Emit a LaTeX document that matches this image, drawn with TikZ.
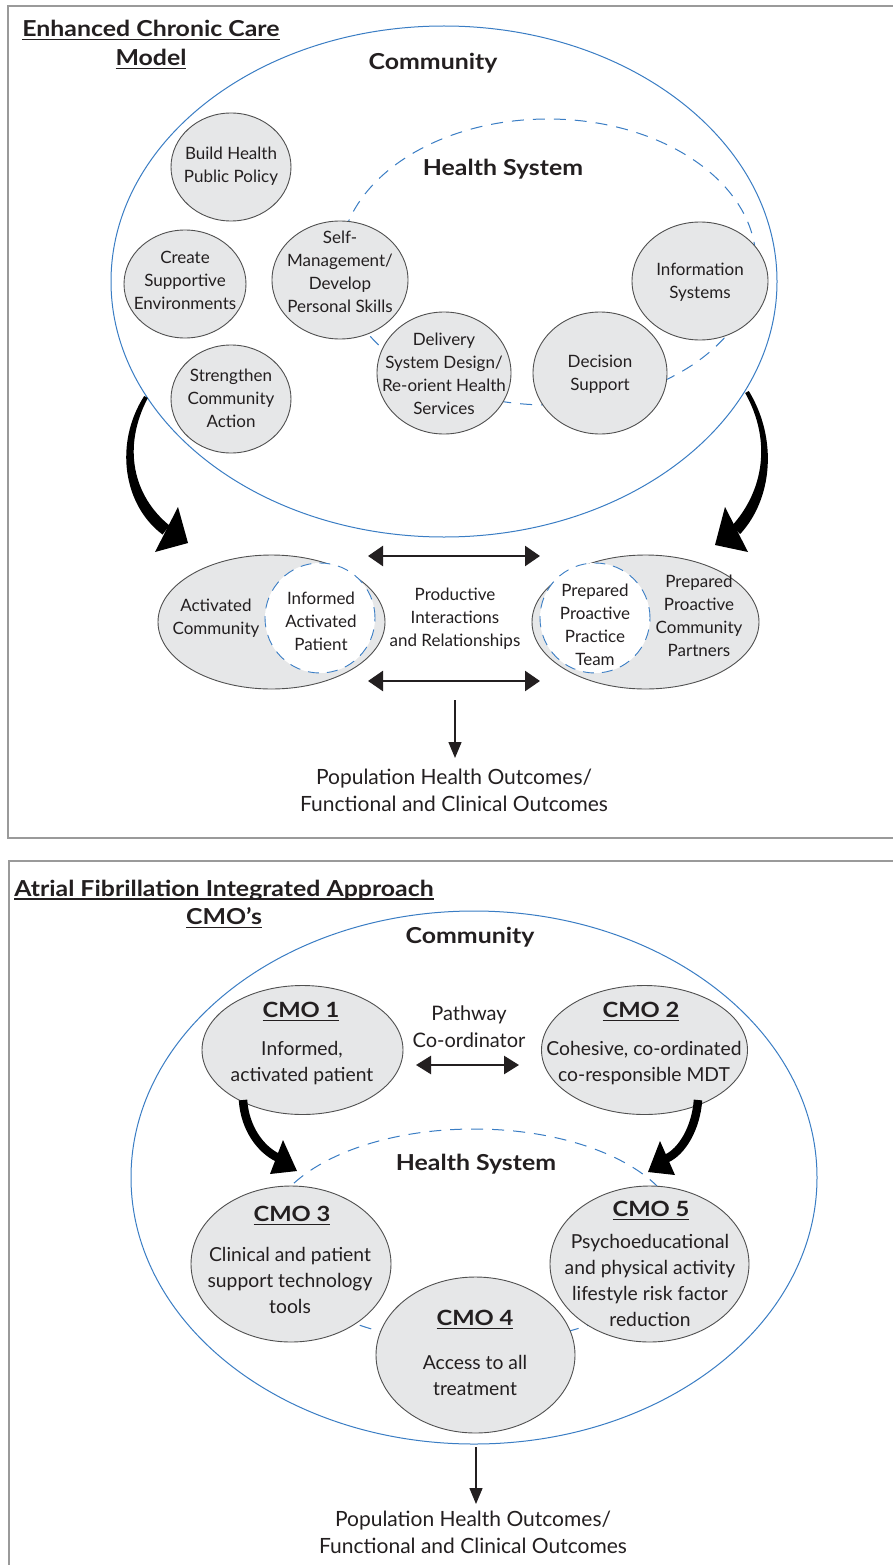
\documentclass[tikz,border=0pt]{standalone}
\usepackage{fontspec}
\setmainfont{Lato}
\newfontfamily\widebold[FakeStretch=1.13]{Lato}
\usetikzlibrary{shapes.geometric,arrows.meta}
\definecolor{ink}{HTML}{231F20}
\definecolor{blobfill}{HTML}{E6E7E8}
\definecolor{rim}{HTML}{505050}
\definecolor{sky}{HTML}{3A7DC4}
\definecolor{framecol}{HTML}{9A9A9A}
\newcommand{\undl}[1]{\leavevmode\setbox0=\hbox{#1}\rlap{\rule[-3.5pt]{\wd0}{1.4pt}}\box0}
\tikzset{
  blob/.style={ellipse, draw=rim, fill=blobfill, line width=0.9pt, inner sep=0pt},
  hole/.style={circle, draw=sky, fill=white, line width=0.9pt, dash pattern=on 11pt off 8pt, inner sep=0pt, minimum size=110pt},
  txt/.style={align=center, text=ink, inner sep=0pt, font=\fontsize{17}{23}\selectfont},
  cmotxt/.style={align=center, text=ink, inner sep=0pt, font=\fontsize{19.3}{26}\selectfont},
  cmohead/.style={text=ink, inner sep=0pt, font=\widebold\bfseries\fontsize{21}{24}\selectfont},
  ringlabel/.style={text=ink, inner sep=0pt, font=\widebold\bfseries\fontsize{22}{25}\selectfont},
  paneltitle/.style={text=ink, inner sep=0pt, font=\widebold\bfseries\fontsize{22}{28}\selectfont},
  outcome/.style={align=center, text=ink, inner sep=0pt, font=\fontsize{21}{27}\selectfont},
  ring/.style={draw=sky, line width=1pt},
  dashring/.style={draw=sky, line width=1pt, dash pattern=on 12pt off 9pt},
  panel/.style={draw=framecol, line width=1.5pt},
  dblarrow/.style={draw=ink, line width=2.5pt, {Triangle[length=15pt,width=20pt]}-{Triangle[length=15pt,width=20pt]}},
  downarrow/.style={draw=ink, line width=1.4pt, -{Triangle[length=16pt,width=13pt]}},
  bigarrow/.style={fill=black, draw=none},
}
\begin{document}
\begin{tikzpicture}[x=1pt,y=-1pt]
\useasboundingbox (0,0) rectangle (893,1565);
\fill[white] (0,0) rectangle (893,1565);

% ================= Panel 1 =================
\draw[panel] (8,6) rectangle (910,838);
\node[paneltitle] (t1a) at (151,30) {\undl{Enhanced Chronic Care}};
\node[paneltitle] (t1b) at (151,59) {\undl{Model}};

\draw[ring] (444,281.5) ellipse [x radius=333, y radius=255.5];
\draw[dashring] (548,262) ellipse [x radius=208, y radius=143];
\node[ringlabel] (comm1) at (433,63) {Community};
\node[ringlabel] (hs1) at (503,169) {Health System};

\node[blob, minimum width=120pt, minimum height=108pt] (build) at (231,167) {};
\node[txt] at (231,166) {Build Health\\Public Policy};
\node[blob, minimum width=122pt, minimum height=108pt] (create) at (185,284) {};
\node[txt] at (185,280) {Create\\Supportive\\Environments};
\node[blob, minimum width=120pt, minimum height=108pt] (strength) at (231,399) {};
\node[txt] at (231,398.5) {Strengthen\\Community\\Action};
\node[blob, minimum width=136pt, minimum height=118pt] (selfm) at (340,280) {};
\node[txt] at (340,272) {Self-\\Management/\\Develop\\Personal Skills};
\node[blob, minimum width=134pt, minimum height=122pt] (deliv) at (444,373) {};
\node[txt] at (444,374) {Delivery\\System Design/\\Re-orient Health\\Services};
\node[blob, minimum width=134pt, minimum height=122pt] (decis) at (600,373) {};
\node[txt] at (600,374) {Decision\\Support};
\node[blob, minimum width=136pt, minimum height=118pt] (info) at (700,281) {};
\node[txt] at (700,282.5) {Information\\Systems};

% big curved arrows (top)
\path[bigarrow] (144.2,396.0) .. controls (114,443) and (123,505) .. (162.5,534.5)
  -- (169.6,525.6) .. controls (133,496) and (122,447) .. (147.8,398.0) -- cycle;
\path[bigarrow] (155,552) -- (178,507) -- (188,543) -- cycle;
\path[bigarrow] (748.8,391.0) .. controls (778,439) and (772.5,499) .. (740.2,534.0)
  -- (731.8,526.0) .. controls (763.5,491) and (772,441) .. (745.2,393.0) -- cycle;
\path[bigarrow] (725,507) -- (748,552) -- (715,545) -- cycle;

% lower row
\node[blob, minimum width=227pt, minimum height=134pt] (actcom) at (271.5,622) {};
\node[hole] (patient) at (320,618) {};
\node[txt] at (216,618.5) {Activated\\Community};
\node[txt] at (321,621) {Informed\\Activated\\Patient};

\node[blob, minimum width=227pt, minimum height=134pt] (partners) at (645.5,622) {};
\node[hole] (team) at (595,618) {};
\node[txt] at (595,624.5) {Prepared\\Proactive\\Practice\\Team};
\node[txt] at (699,616) {Prepared\\Proactive\\Community\\Partners};

\node[txt] (prod) at (455,619) {Productive\\Interactions\\and Relationships};
\coordinate (ua) at (368,556); \coordinate (ub) at (540,556);
\coordinate (la) at (368,681); \coordinate (lb) at (540,681);
\draw[dblarrow] (ua) -- (ub);
\draw[dblarrow] (la) -- (lb);
\coordinate (d1a) at (455,700); \coordinate (d1b) at (455,758);
\draw[downarrow] (d1a) -- (d1b);
\node[outcome] (out1) at (454,790.5) {Population Health Outcomes/\\Functional and Clinical Outcomes};

% ================= Panel 2 =================
\draw[panel] (9,861) rectangle (910,1600);
\node[paneltitle] (t2a) at (224,890) {\undl{Atrial Fibrillation Integrated Approach}};
\node[paneltitle] (t2b) at (224,918) {\undl{CMO’s}};

\draw[ring] (474,1177.5) ellipse [x radius=343, y radius=266.5];
\draw[dashring] (474,1236) ellipse [x radius=207, y radius=107];
\node[ringlabel] (comm2) at (470,937) {Community};
\node[ringlabel] (hs2) at (476,1164) {Health System};

\node[blob, minimum width=201pt, minimum height=129pt] (cmo1) at (302.5,1050) {};
\node[cmohead] at (301,1012) {\undl{CMO 1}};
\node[cmotxt] at (302,1063) {Informed,\\activated patient};
\node[blob, minimum width=206pt, minimum height=129pt] (cmo2) at (644.5,1050) {};
\node[cmohead] at (641,1012) {\undl{CMO 2}};
\node[cmotxt] at (644,1063) {Cohesive, co-ordinated\\co-responsible MDT};

\node[txt, font=\fontsize{20}{27}\selectfont] (path) at (469,1026.5) {Pathway\\Co-ordinator};
\coordinate (pa) at (416,1065); \coordinate (pb) at (519,1065);
\draw[draw=ink, line width=2.5pt, {Triangle[length=15pt,width=18pt]}-{Triangle[length=15pt,width=18pt]}] (pa) -- (pb);

% curved arrows (bottom)
\draw[black, line width=8.5pt] (243,1100) .. controls (245,1130) and (262,1150) .. (277.5,1157.5);
\path[bigarrow] (283,1140) -- (270,1174) -- (297,1171) -- cycle;
\draw[black, line width=8.5pt] (698,1100) .. controls (696,1128) and (682,1151.5) .. (666.5,1158.5);
\path[bigarrow] (660,1141) -- (675,1175) -- (648,1172) -- cycle;

\node[blob, minimum width=200pt, minimum height=156pt] (cmo3) at (291,1264) {};
\node[cmohead] at (292,1216) {\undl{CMO 3}};
\node[cmotxt] at (290,1280.5) {Clinical and patient\\support technology\\tools};
\node[blob, minimum width=199pt, minimum height=156pt] (cmo5) at (649.5,1264) {};
\node[cmohead] at (651,1211) {\undl{CMO 5}};
\node[cmotxt] at (650,1280.5) {Psychoeducational\\and physical activity\\lifestyle risk factor\\reduction};
\node[blob, minimum width=199pt, minimum height=156pt] (cmo4) at (475.5,1355) {};
\node[cmohead] at (475,1320) {\undl{CMO 4}};
\node[cmotxt] at (475,1375) {Access to all\\treatment};

\coordinate (d2a) at (476,1447); \coordinate (d2b) at (476,1504);
\draw[downarrow] (d2a) -- (d2b);
\node[outcome] (out2) at (473,1532) {Population Health Outcomes/\\Functional and Clinical Outcomes};
\end{tikzpicture}
\end{document}
